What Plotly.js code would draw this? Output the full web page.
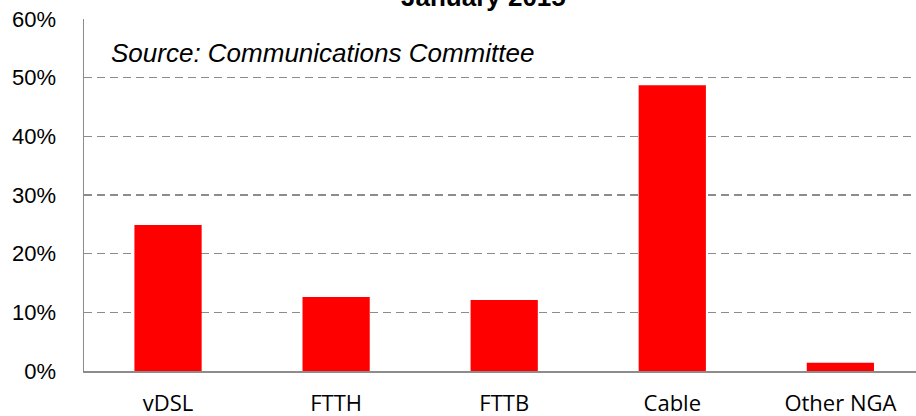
<!DOCTYPE html>
<html>
<head>
<meta charset="utf-8">
<script src="https://cdn.plot.ly/plotly-3.0.1.min.js"></script>
<style>html,body{margin:0;padding:0;background:#fff;}#chart{width:916px;height:416px;}</style>
</head>
<body>
<div id="chart"></div>
<script>
const categories = ["vDSL", "FTTH", "FTTB", "Cable", "Other NGA"];
const shares = [24.9, 12.6, 12.1, 48.7, 1.4];
const yTickValues = [0, 10, 20, 30, 40, 50, 60];
const yTickLabels = ["0%", "10%", "20%", "30%", "40%", "50%", "60%"];
const chartTitle = "January 2015";
const sourceNote = "Source: Communications Committee";

const trace = {
  type: "bar",
  x: categories,
  y: shares,
  width: 0.4,
  marker: {color: "#FF0000"},
  hoverinfo: "x+y"
};

const layout = {
  width: 916,
  height: 416,
  margin: {l: 84, r: 0, t: 19, b: 45},
  paper_bgcolor: "#ffffff",
  plot_bgcolor: "#ffffff",
  showlegend: false,
  xaxis: {
    range: [-0.5, 4.45],
    showline: true,
    linecolor: "#8c8c8c",
    linewidth: 1.5,
    showgrid: false,
    ticks: "",
    ticklabelstandoff: 12,
    tickfont: {family: "Open Sans", size: 22, color: "#000"}
  },
  yaxis: {
    range: [0, 60],
    tickmode: "array",
    tickvals: yTickValues,
    ticktext: yTickLabels,
    showline: true,
    linecolor: "#8c8c8c",
    linewidth: 1.5,
    showgrid: true,
    gridcolor: "#8c8c8c",
    gridwidth: 1.5,
    griddash: "8px,5px",
    zeroline: false,
    ticks: "",
    ticklabelstandoff: 22,
    tickfont: {family: "Liberation Sans", size: 22, color: "#000"}
  },
  annotations: [
    {
      text: "<b>" + chartTitle + "</b>",
      xref: "paper", yref: "paper",
      x: 0.48, y: 1, xanchor: "center", yanchor: "middle",
      yshift: 22, showarrow: false,
      font: {family: "Liberation Sans", size: 26, color: "#000"}
    },
    {
      text: "<i>" + sourceNote + "</i>",
      xref: "paper", yref: "paper",
      x: 0.03, y: 0.903, xanchor: "left", yanchor: "middle",
      showarrow: false,
      font: {family: "Liberation Sans", size: 26, color: "#000"}
    }
  ]
};

Plotly.newPlot("chart", [trace], layout, {displayModeBar: false, staticPlot: true});
</script>
</body>
</html>
